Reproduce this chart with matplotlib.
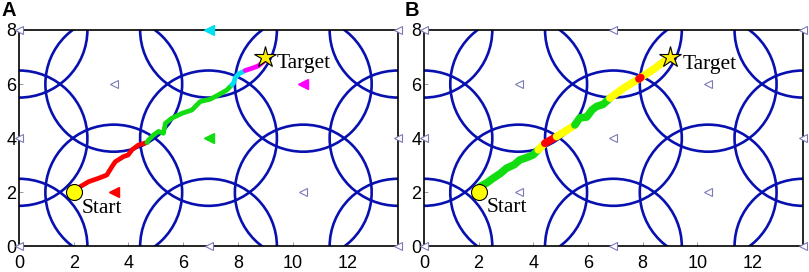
import matplotlib
matplotlib.use("Agg")
import matplotlib.pyplot as plt
from matplotlib.patches import Circle

# base stations (hexagonal layout), coverage radius
bs_x = [0.0, 0.0, 0.0, 3.464, 3.464, 6.928, 6.928, 6.928, 10.392, 10.392, 13.856, 13.856, 13.856]
bs_y = [0.0, 4.0, 8.0, 2.0, 6.0, 0.0, 4.0, 8.0, 2.0, 6.0, 0.0, 4.0, 8.0]
radius = 2.5

start = (2.0, 2.0)
target = (9.0, 7.0)

# panel A: stations used along the route (index into bs lists) and their colours
a_used = [3, 6, 7, 9]
a_used_colors = ["#ff0000", "#11dd11", "#00e0f0", "#ff00ff"]

# panel A route, split by serving station
a_red_x = [2.1, 2.24, 2.54, 2.91, 3.21, 3.40, 3.52, 3.82, 3.99, 4.13, 4.37, 4.68]
a_red_y = [2.12, 2.21, 2.39, 2.52, 2.64, 2.95, 3.13, 3.32, 3.38, 3.57, 3.75, 3.84]
a_green_x = [4.68, 4.74, 4.92, 5.10, 5.28, 5.35, 5.59, 5.96, 6.32, 6.62, 6.99, 7.29, 7.60, 7.78]
a_green_y = [3.84, 3.94, 4.12, 4.25, 4.18, 4.55, 4.74, 4.92, 5.04, 5.35, 5.44, 5.60, 5.78, 5.97]
a_cyan_x = [7.78, 7.84, 7.90, 8.02, 8.27]
a_cyan_y = [5.97, 6.03, 6.22, 6.37, 6.50]
a_mag_x = [8.27, 8.51, 8.75, 8.94]
a_mag_y = [6.50, 6.58, 6.67, 6.83]

# panel B route
b_g1_x = [2.05, 2.30, 2.53, 2.80, 3.02, 3.30, 3.51, 3.75, 3.99, 4.18]
b_g1_y = [2.21, 2.35, 2.52, 2.70, 2.89, 3.02, 3.20, 3.28, 3.38, 3.57]
b_y1_x = [4.18, 4.42]
b_y1_y = [3.57, 3.81]
b_r1_x = [4.42, 4.85]
b_r1_y = [3.81, 4.06]
b_y2_x = [4.85, 5.20, 5.52]
b_y2_y = [4.06, 4.28, 4.49]
b_g2_x = [5.52, 5.70, 5.95, 6.15, 6.31, 6.55, 6.80]
b_g2_y = [4.49, 4.75, 4.78, 5.05, 5.17, 5.25, 5.48]
b_y3_x = [6.80, 7.30, 7.89]
b_y3_y = [5.48, 5.85, 6.21]
b_r2_x = [7.86, 7.93]
b_r2_y = [6.19, 6.24]
b_y4_x = [7.93, 8.40, 8.93]
b_y4_y = [6.24, 6.55, 6.95]

xticks = [0, 2, 4, 6, 8, 10, 12]
yticks = [0, 2, 4, 6, 8]

fig = plt.figure(figsize=(8.09, 2.72), dpi=100)
axA = fig.add_axes([0.0235, 0.094, 0.4685, 0.796])
axB = fig.add_axes([0.524, 0.094, 0.4685, 0.796])

circle_color = "#0810b0"
hollow_color = "#7a7ab8"


def draw_base(ax, label):
    for cx, cy in zip(bs_x, bs_y):
        ax.add_patch(Circle((cx, cy), radius, fill=False, ec=circle_color, lw=1.9, zorder=2))
    ax.plot(bs_x, bs_y, "<", ms=5.5, mfc="white", mec=hollow_color, mew=0.8,
            ls="none", clip_on=False, zorder=3)
    ax.set_xlim(0, 13.856)
    ax.set_ylim(0, 8)
    ax.set_xticks(xticks)
    ax.set_yticks(yticks)
    ax.tick_params(direction="in", length=3, width=0.6, color="#888888", labelsize=13)
    ax.tick_params(axis="x", pad=6)
    ax.tick_params(axis="y", pad=2)
    for lab in ax.get_xticklabels() + ax.get_yticklabels():
        lab.set_family("Liberation Sans")
    for sp in ax.spines.values():
        sp.set_linewidth(1.2)
    ax.plot(*start, "o", ms=11.5, mfc="#ffff00", mec="black", mew=0.8, zorder=6)
    ax.plot(*target, "*", ms=16, mfc="#ffee00", mec="black", mew=0.8, zorder=6)
    ax.text(label[0], label[1], label[2], fontsize=14.5, fontweight="bold",
            family="Liberation Sans", transform=fig.transFigure, va="top", ha="left")


draw_base(axA, (0.002, 0.995, "A"))
draw_base(axB, (0.500, 0.995, "B"))

# panel A coloured serving stations
for i, c in zip(a_used, a_used_colors):
    axA.plot(bs_x[i], bs_y[i], "<", ms=6.5, mfc=c, mec=c, ls="none", clip_on=False, zorder=4)

for xs, ys, c in [(a_red_x, a_red_y, "#ff0000"), (a_green_x, a_green_y, "#11dd11"),
                  (a_cyan_x, a_cyan_y, "#00e0f0"), (a_mag_x, a_mag_y, "#ff00ff")]:
    axA.plot(xs, ys, color=c, lw=3.4, solid_capstyle="round", solid_joinstyle="round", zorder=5)

for xs, ys, c in [(b_g1_x, b_g1_y, "#11dd11"), (b_y1_x, b_y1_y, "#ffff00"),
                  (b_r1_x, b_r1_y, "#ff0000"), (b_y2_x, b_y2_y, "#ffff00"),
                  (b_g2_x, b_g2_y, "#11dd11"), (b_y3_x, b_y3_y, "#ffff00"),
                  (b_y4_x, b_y4_y, "#ffff00"), (b_r2_x, b_r2_y, "#ff0000")]:
    axB.plot(xs, ys, color=c, lw=5.5, solid_capstyle="round", solid_joinstyle="round", zorder=5)

axA.text(2.3, 1.42, "Start", fontsize=15.5, family="Liberation Serif", va="center", zorder=7)
axA.text(9.4, 6.77, "Target", fontsize=15.5, family="Liberation Serif", va="center", zorder=7)
axB.text(2.28, 1.45, "Start", fontsize=15.5, family="Liberation Serif", va="center", zorder=7)
axB.text(9.45, 6.72, "Target", fontsize=15.5, family="Liberation Serif", va="center", zorder=7)

fig.savefig("out.png", dpi=100)
